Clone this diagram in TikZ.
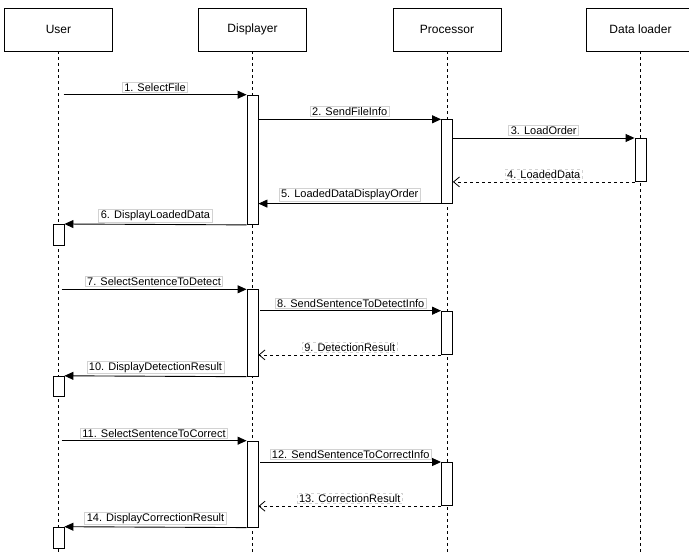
\documentclass[tikz,border=0pt]{standalone}
\usepackage{fontspec}
\setmainfont{Liberation Sans}
\usetikzlibrary{arrows.meta, positioning}

\begin{document}
\begin{tikzpicture}[
        x=1pt, y=-1pt,
        actor/.style={rectangle, draw, fill=white, minimum width=108pt,
                      minimum height=43pt, inner sep=0pt,
                      font=\fontsize{12}{14}\selectfont},
        lifeline/.style={draw, line width=0.8pt, dash pattern=on 3pt off 3pt},
        act/.style={rectangle, draw, fill=white, line width=0.9pt,
                    minimum width=11pt, inner sep=0pt, anchor=north},
        call/.style={-{Triangle[length=9pt, width=8pt]}, line width=0.9pt},
        reply/.style={-{Straight Barb[length=6pt, width=10pt]}, line width=0.8pt,
                      dash pattern=on 3pt off 3pt},
        lbl/.style={midway, above=2pt, draw=gray!35, fill=white, inner xsep=2pt,
                    inner ysep=1pt, font=\fontsize{11}{13}\selectfont}
      ]
        \useasboundingbox (0,0) rectangle (689,554);
        \coordinate (bottom) at (0,554);

        % participants and lifelines
        \node[actor] (user) at (58.5,29.5)  {User};
        \node[actor] (disp) at (252.5,29.5) {Displayer};
        \node[actor] (proc) at (447,29.5)   {Processor};
        \node[actor] (load) at (640.5,29.5) {Data loader};
        \foreach \p in {user, disp, proc, load}
          \draw[lifeline] (\p.south) -- (\p.south |- bottom);

        % activation bars
        \node[act, minimum height=129.3pt] (a1) at (252.5,94.7) {};
        \node[act, minimum height=83.4pt]  (p1) at (447,119.3)  {};
        \node[act, minimum height=43pt]    (d1) at (640.5,138)  {};
        \node[act, minimum height=21.3pt]  (u1) at (58.5,224)   {};
        \node[act, minimum height=86.5pt]  (a2) at (252.5,289.3) {};
        \node[act, minimum height=43.3pt]  (p2) at (447,310.7)  {};
        \node[act, minimum height=20.5pt]  (u2) at (58.5,375.8) {};
        \node[act, minimum height=86pt]    (a3) at (252.5,440.7) {};
        \node[act, minimum height=43.3pt]  (p3) at (447,462)    {};
        \node[act, minimum height=21pt]    (u3) at (58.5,526.7) {};

        % loading a file
        \draw[call] ([xshift=5pt]user.south |- a1.north west) -- (a1.north west)
          node[lbl] {1. SelectFile};
        \draw[call] (a1.east |- p1.north west) -- (p1.north west)
          node[lbl] {2. SendFileInfo};
        \draw[call] (p1.east |- d1.north west) -- (d1.north west)
          node[lbl] {3. LoadOrder};
        \draw[reply] (d1.south west) -- (p1.east |- d1.south west)
          node[lbl] {4. LoadedData};
        \draw[call] (p1.south west) -- (a1.east |- p1.south west)
          node[lbl] {5. LoadedDataDisplayOrder};
        \draw[call] (a1.south west) -- (u1.north east)
          node[lbl] {6. DisplayLoadedData};

        % detection
        \draw[call] ([xshift=3pt]user.south |- a2.north west) -- (a2.north west)
          node[lbl] {7. SelectSentenceToDetect};
        \draw[call] ([xshift=2pt]a2.east |- p2.north west) -- (p2.north west)
          node[lbl] {8. SendSentenceToDetectInfo};
        \draw[reply] (p2.south west) -- (a2.east |- p2.south west)
          node[lbl] {9. DetectionResult};
        \draw[call] (a2.south west) -- (u2.north east)
          node[lbl] {10. DisplayDetectionResult};

        % correction
        \draw[call] ([xshift=3pt]user.south |- a3.north west) -- (a3.north west)
          node[lbl] {11. SelectSentenceToCorrect};
        \draw[call] ([xshift=2pt]a3.east |- p3.north west) -- (p3.north west)
          node[lbl] {12. SendSentenceToCorrectInfo};
        \draw[reply] (p3.south west) -- (a3.east |- p3.south west)
          node[lbl] {13. CorrectionResult};
        \draw[call] (a3.south west) -- (u3.north east)
          node[lbl] {14. DisplayCorrectionResult};
      \end{tikzpicture}
\end{document}
